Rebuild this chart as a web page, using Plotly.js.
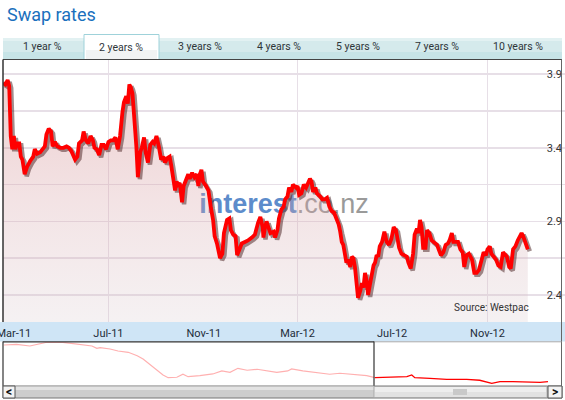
<!DOCTYPE html>
<html><head><meta charset="utf-8">
<script src="https://cdn.plot.ly/plotly-3.0.1.min.js"></script>
<style>html,body{margin:0;padding:0;background:#fff}#chart{width:565px;height:400px}</style>
</head><body><div id="chart"></div>
<script>
// ---- main series: NZ 2-year swap rate (%) ----
const dates = ['2011-02-15','2011-02-18','2011-02-21','2011-02-23','2011-02-25','2011-02-27','2011-03-01','2011-03-03','2011-03-05','2011-03-08',
'2011-03-10','2011-03-12','2011-03-15','2011-03-18','2011-03-22','2011-03-26','2011-03-28','2011-03-31','2011-04-04','2011-04-07',
'2011-04-10','2011-04-12','2011-04-15','2011-04-18','2011-04-20','2011-04-23','2011-04-26','2011-04-30','2011-05-04','2011-05-08',
'2011-05-11','2011-05-14','2011-05-17','2011-05-19','2011-05-22','2011-05-24','2011-05-28','2011-05-30','2011-06-02','2011-06-05',
'2011-06-08','2011-06-11','2011-06-13','2011-06-16','2011-06-19','2011-06-22','2011-06-25','2011-06-28','2011-07-01','2011-07-04',
'2011-07-07','2011-07-10','2011-07-13','2011-07-16','2011-07-19','2011-07-21','2011-07-24','2011-07-26','2011-07-28','2011-07-30',
'2011-08-01','2011-08-04','2011-08-06','2011-08-08','2011-08-11','2011-08-13','2011-08-16','2011-08-18','2011-08-21','2011-08-24',
'2011-08-27','2011-08-29','2011-09-01','2011-09-04','2011-09-07','2011-09-10','2011-09-12','2011-09-15','2011-09-18','2011-09-20',
'2011-09-23','2011-09-25','2011-09-27','2011-09-29','2011-10-01','2011-10-04','2011-10-06','2011-10-09','2011-10-12','2011-10-14',
'2011-10-17','2011-10-20','2011-10-23','2011-10-25','2011-10-27','2011-10-29','2011-10-31','2011-11-04','2011-11-07','2011-11-10',
'2011-11-13','2011-11-15','2011-11-18','2011-11-22','2011-11-25','2011-11-27','2011-12-01','2011-12-04','2011-12-06','2011-12-09',
'2011-12-12','2011-12-14','2011-12-17','2011-12-20','2011-12-24','2011-12-28','2012-01-02','2012-01-06','2012-01-10','2012-01-13',
'2012-01-16','2012-01-17','2012-01-19','2012-01-21','2012-01-24','2012-01-26','2012-01-30','2012-02-01','2012-02-04','2012-02-06',
'2012-02-09','2012-02-12','2012-02-14','2012-02-17','2012-02-19','2012-02-22','2012-02-24','2012-02-28','2012-03-01','2012-03-03',
'2012-03-06','2012-03-09','2012-03-12','2012-03-15','2012-03-17','2012-03-19','2012-03-21','2012-03-24','2012-03-26','2012-03-30',
'2012-04-02','2012-04-05','2012-04-08','2012-04-11','2012-04-14','2012-04-17','2012-04-20','2012-04-23','2012-04-25','2012-04-27',
'2012-04-29','2012-05-01','2012-05-03','2012-05-05','2012-05-08','2012-05-10','2012-05-12','2012-05-14','2012-05-16','2012-05-18',
'2012-05-21','2012-05-23','2012-05-25','2012-05-27','2012-05-29','2012-05-31','2012-06-02','2012-06-05','2012-06-07','2012-06-09',
'2012-06-11','2012-06-13','2012-06-15','2012-06-18','2012-06-21','2012-06-24','2012-06-27','2012-06-30','2012-07-03','2012-07-06',
'2012-07-08','2012-07-10','2012-07-13','2012-07-16','2012-07-20','2012-07-22','2012-07-25','2012-07-28','2012-07-30','2012-08-02',
'2012-08-04','2012-08-06','2012-08-08','2012-08-10','2012-08-13','2012-08-15','2012-08-18','2012-08-21','2012-08-24','2012-08-28',
'2012-08-30','2012-09-02','2012-09-05','2012-09-08','2012-09-11','2012-09-13','2012-09-16','2012-09-18','2012-09-21','2012-09-24',
'2012-09-27','2012-09-30','2012-10-02','2012-10-05','2012-10-08','2012-10-12','2012-10-15','2012-10-18','2012-10-21','2012-10-24',
'2012-10-27','2012-10-30','2012-11-01','2012-11-04','2012-11-06','2012-11-09','2012-11-12','2012-11-15','2012-11-18','2012-11-21',
'2012-11-24','2012-11-26','2012-11-29','2012-12-01','2012-12-04','2012-12-07','2012-12-10','2012-12-13','2012-12-15','2012-12-17',
'2012-12-19','2012-12-22','2012-12-23'];
const rates = [3.84,3.83,3.86,3.82,3.48,3.39,3.48,3.39,3.43,3.43,
3.34,3.32,3.22,3.27,3.31,3.34,3.39,3.36,3.37,3.39,
3.41,3.49,3.53,3.51,3.41,3.44,3.41,3.40,3.40,3.41,
3.40,3.38,3.35,3.32,3.34,3.43,3.45,3.51,3.45,3.43,
3.48,3.45,3.40,3.39,3.35,3.42,3.42,3.39,3.44,3.45,
3.45,3.47,3.39,3.48,3.64,3.71,3.75,3.70,3.83,3.81,
3.77,3.58,3.41,3.20,3.37,3.40,3.47,3.37,3.30,3.42,
3.44,3.43,3.48,3.41,3.32,3.34,3.30,3.33,3.34,3.28,
3.15,3.11,3.17,3.15,3.16,3.03,3.14,3.19,3.22,3.19,
3.23,3.20,3.22,3.14,3.22,3.25,3.17,3.14,3.11,3.00,
2.91,2.80,2.75,2.65,2.68,2.82,2.91,2.92,2.84,2.81,
2.80,2.67,2.71,2.75,2.76,2.77,2.79,2.81,2.89,2.93,
2.86,2.79,2.86,2.90,2.85,2.82,2.83,2.79,2.84,2.92,
2.98,3.00,3.05,3.07,3.13,3.10,3.15,3.13,3.14,3.08,
3.09,3.15,3.13,3.16,3.19,3.17,3.10,3.13,3.09,3.07,
3.05,3.05,3.06,3.00,2.97,2.96,2.92,2.88,2.83,2.76,
2.74,2.68,2.62,2.64,2.59,2.66,2.65,2.59,2.50,2.38,
2.43,2.48,2.45,2.55,2.50,2.40,2.46,2.55,2.60,2.62,
2.67,2.66,2.73,2.76,2.83,2.76,2.74,2.78,2.86,2.84,
2.76,2.72,2.68,2.67,2.66,2.62,2.58,2.68,2.81,2.85,
2.82,2.91,2.86,2.72,2.72,2.84,2.82,2.77,2.76,2.74,
2.71,2.67,2.69,2.74,2.75,2.77,2.82,2.76,2.76,2.76,
2.71,2.69,2.59,2.67,2.68,2.64,2.55,2.55,2.57,2.64,
2.69,2.67,2.71,2.73,2.68,2.66,2.64,2.60,2.59,2.69,
2.67,2.66,2.59,2.58,2.71,2.73,2.77,2.81,2.82,2.80,
2.77,2.72,2.71];

// ---- overview (navigator) series ----
const navPastDates = ['2007-02-25','2007-04-15','2007-06-06','2007-07-03','2007-08-12','2007-10-13','2007-11-21','2007-12-26','2008-02-04','2008-02-23',
'2008-03-07','2008-04-15','2008-05-16','2008-06-25','2008-07-30','2008-08-22','2008-09-19','2008-10-16','2008-11-08','2008-11-28',
'2009-01-01','2009-01-25','2009-02-14','2009-04-01','2009-05-22','2009-06-26','2009-07-28','2009-08-28','2009-10-03','2009-11-11',
'2009-12-19','2010-01-27','2010-03-11','2010-03-26','2010-05-09','2010-07-02','2010-08-22','2010-10-01','2010-11-21','2011-01-14','2011-02-15'];
const navPastRates = [8.37,8.47,8.23,8.47,8.76,8.76,8.61,8.37,8.23,7.90,
7.99,7.80,7.51,7.33,6.84,6.37,5.51,4.80,4.09,3.70,
3.76,4.19,3.84,3.99,4.23,4.66,4.47,5.04,4.76,4.90,
4.66,4.47,4.66,4.94,4.66,4.47,4.19,4.33,4.19,3.99,3.70];
const navRecentDates = ['2011-02-15','2011-04-26','2011-06-20','2011-07-09','2011-07-21','2011-09-18','2011-11-23','2012-02-09','2012-03-31','2012-05-17',
'2012-06-18','2012-08-08','2012-10-02','2012-11-22','2012-12-23'];
const navRecentRates = [3.70,3.76,3.84,4.09,3.70,3.61,3.47,3.47,3.33,2.90,3.13,3.13,3.04,3.04,3.13];

const xTickDates = ['2011-03-01','2011-07-01','2011-11-01','2012-03-01','2012-07-01','2012-11-01'];
const tabLabels = ['1 year %','2 years %','3 years %','4 years %','5 years %','7 years %','10 years %'];
const activeTab = 1;

// ---- layout helpers (pixel -> paper) ----
const W = 565, H = 400;
const px = x => x / W, py = y => 1 - y / H;
const FONT = 'Roboto, "DejaVu Sans", sans-serif';

const xMain = ['2011-02-15', '2013-02-09'];
const yMain = [2.216, 4.0];
const xShadow = ['2011-02-12 10:00', '2013-02-06 10:00'];
const yShadow = [2.2296, 4.0136];

const traces = [
  { x: dates, y: rates, xaxis: 'x', yaxis: 'y', type: 'scatter', mode: 'lines',
    fill: 'tozeroy', line: { width: 0, color: 'rgba(0,0,0,0)' },
    fillgradient: { type: 'vertical', start: 2.216, stop: 3.9,
      colorscale: [[0, 'rgba(215,200,205,0.25)'], [0.5, 'rgba(215,160,165,0.30)'], [1, 'rgba(210,130,130,0.40)']] },
    hoverinfo: 'skip', showlegend: false },
  { x: dates, y: rates, xaxis: 'x3', yaxis: 'y3', type: 'scatter', mode: 'lines',
    line: { width: 4.5, color: 'rgba(70,30,30,0.5)' }, hoverinfo: 'skip', showlegend: false },
  { x: dates, y: rates, xaxis: 'x4', yaxis: 'y4', type: 'scatter', mode: 'lines',
    line: { width: 3.8, color: '#ff0000' }, showlegend: false },
  { x: navPastDates, y: navPastRates, xaxis: 'x2', yaxis: 'y2', type: 'scatter', mode: 'lines',
    line: { width: 1.2, color: '#ffb0b0' }, showlegend: false },
  { x: navRecentDates, y: navRecentRates, xaxis: 'x2', yaxis: 'y2', type: 'scatter', mode: 'lines',
    line: { width: 1.3, color: '#ff0000' }, showlegend: false }
];

const hidden = { visible: false, fixedrange: true };
const gridCol = '#e7dfe7';

const shapes = [];
function rect(x0, y0, x1, y1, fill, lineCol, lw, layer) {
  shapes.push({ type: 'rect', xref: 'paper', yref: 'paper', x0: px(x0), x1: px(x1), y0: py(y1), y1: py(y0),
    fillcolor: fill, line: { color: lineCol || 'rgba(0,0,0,0)', width: lw || 0 }, layer: layer || 'below' });
}
function hline(x0, x1, y, col, lw) {
  shapes.push({ type: 'line', xref: 'paper', yref: 'paper', x0: px(x0), x1: px(x1), y0: py(y), y1: py(y),
    line: { color: col, width: lw }, layer: 'above' });
}
function vline(x, y0, y1, col, lw) {
  shapes.push({ type: 'line', xref: 'paper', yref: 'paper', x0: px(x), x1: px(x), y0: py(y0), y1: py(y1),
    line: { color: col, width: lw }, layer: 'above' });
}

// tab strip
rect(3, 38, 562, 59, '#d5eaec');
rect(3, 38, 562, 41, '#e2f1f2');
rect(3, 52, 562, 59, '#c7e4e7');
rect(84, 34.5, 159, 59.5, '#ffffff', '#9fd2da', 1);
rect(86, 50, 157, 59, '#f1f3f3');
// watermark
shapes.push({ type: 'rect', xref: 'paper', yref: 'paper', x0: px(196), x1: px(372), y0: py(216), y1: py(186),
  fillcolor: 'rgba(0,0,0,0)', line: { width: 0 }, layer: 'below',
  label: { text: "<b style='color:#5d8ccb'>interest</b><span style='color:#9a9a9a'>.co.nz</span>",
    font: { size: 27, family: '"Liberation Sans", Arial, sans-serif' }, textposition: 'middle center' } });
// x-axis band
rect(0, 322, 565, 341.5, '#cfe5f6');
// frame
hline(3, 562, 59.5, '#444', 1);
vline(3, 59.5, 322, '#333', 1.5);
vline(561.5, 59.5, 386, '#666', 1);
hline(3, 374, 341.8, '#333', 1.2);
hline(374, 561.5, 341.8, '#aaa', 1);
vline(3, 341.5, 386, '#333', 1.2);
vline(374, 341.5, 386, '#333', 1.2);
// scrollbar
rect(3, 386, 562, 398, '#cdcdcd', '#777', 1, 'above');
rect(15, 386.5, 374, 390, '#e2e2e2', null, 0, 'above');
rect(374, 386.5, 547, 397.5, '#eeeeee', '#a8a8a8', 1, 'above');
rect(375, 392, 546, 397, '#e2e2e2', null, 0, 'above');
rect(453, 389, 467, 395, '#c9c9c9', null, 0, 'above');
rect(3, 386, 15, 398, '#f3f3f3', '#555', 1, 'above');
rect(548, 386, 562, 398, '#f3f3f3', '#555', 1, 'above');

const annotations = [];
function txt(x, y, text, size, color, anchor, extra) {
  annotations.push(Object.assign({ xref: 'paper', yref: 'paper', x: px(x), y: py(y), text: text, showarrow: false,
    xanchor: anchor || 'center', yanchor: 'middle', font: { family: FONT, size: size, color: color } }, extra || {}));
}
txt(5, 15, 'Swap rates', 18, '#1a70bd', 'left');
const tabCenters = [42, 121, 200, 279, 358, 437, 518];
tabLabels.forEach((t, i) => txt(tabCenters[i], i === activeTab ? 47.5 : 46.5, t, 10.5, '#2e3538'));
txt(531, 307.5, 'Source: Westpac', 10, '#333', 'right');
txt(9, 392, '<b>&lt;</b>', 12, '#111');
txt(555, 392, '<b>&gt;</b>', 12, '#111');

const layout = {
  width: W, height: H, margin: { l: 0, r: 0, t: 0, b: 0 },
  paper_bgcolor: '#ffffff', plot_bgcolor: '#ffffff', showlegend: false,
  xaxis: { domain: [px(3), 1], range: xMain, type: 'date', anchor: 'y',
    tickvals: xTickDates, tickformat: '%b-%y', ticks: '', showgrid: false, zeroline: false, showline: false,
    ticklabeloverflow: 'allow', ticklabelstandoff: 3,
    tickfont: { family: FONT, size: 11, color: '#1e2c39' }, fixedrange: true },
  yaxis: { domain: [py(322), py(59.5)], range: yMain, anchor: 'x', side: 'right', ticklabelposition: 'inside',
    tick0: 2.4, dtick: 0.5, tickformat: '.1f', ticks: '', showline: false, zeroline: false,
    gridcolor: gridCol, gridwidth: 1.5,
    minor: { tick0: 2.4, dtick: 0.25, showgrid: true, gridcolor: gridCol, gridwidth: 1.5 },
    tickfont: { family: FONT, size: 11, color: '#333' }, fixedrange: true },
  xaxis3: Object.assign({ domain: [px(3), 1], range: xShadow, type: 'date', overlaying: 'x', anchor: 'y3' }, hidden),
  yaxis3: Object.assign({ domain: [py(322), py(59.5)], range: yShadow, overlaying: 'y', anchor: 'x3' }, hidden),
  xaxis4: { domain: [px(3), 1], range: xMain, type: 'date', overlaying: 'x', anchor: 'y4',
    tick0: '2011-07-01', dtick: 'M8', showgrid: true, gridcolor: gridCol, gridwidth: 1.5,
    showticklabels: false, ticks: '', zeroline: false, showline: false, fixedrange: true },
  yaxis4: Object.assign({ domain: [py(322), py(59.5)], range: yMain, overlaying: 'y', anchor: 'x4' }, hidden),
  xaxis2: Object.assign({ domain: [px(3), px(548)], range: ['2007-02-21', '2012-12-23'], type: 'date', anchor: 'y2' }, hidden),
  yaxis2: Object.assign({ domain: [py(386), py(342)], range: [2.51, 8.8], anchor: 'x2' }, hidden),
  shapes: shapes, annotations: annotations
};

Plotly.newPlot('chart', traces, layout, { staticPlot: true, displayModeBar: false });
</script></body></html>
